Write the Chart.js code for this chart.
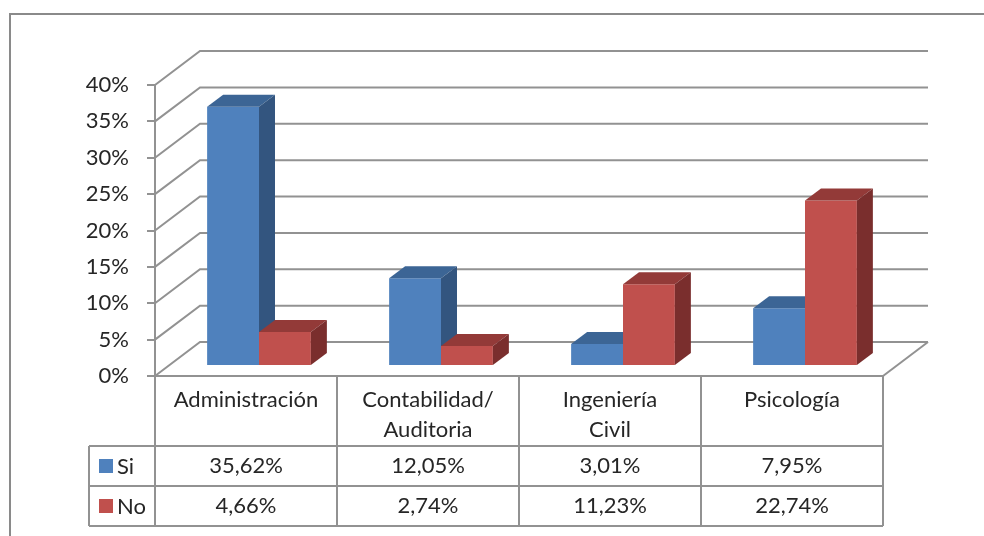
<!DOCTYPE html>
<html>
<head>
<meta charset="utf-8">
<script src="https://cdn.jsdelivr.net/npm/chart.js@4"></script>
<style>
    body { margin: 0; background: #fff; }
    #wrap { position: relative; width: 984px; height: 536px; overflow: hidden; }
    #frame { position: absolute; left: 9px; top: 13px; width: 1200px; height: 800px; border: 2px solid #8a8a8a; }
    canvas { position: absolute; left: 0; top: 0; }
</style>
</head>
<body>
<div id="wrap">
    <div id="frame"></div>
    <canvas id="careerChart" width="984" height="536"></canvas>
</div>
<script>
// Data
const careers = [['Administración'], ['Contabilidad/', 'Auditoria'], ['Ingeniería', 'Civil'], ['Psicología']];
const siValues = [35.62, 12.05, 3.01, 7.95];
const noValues = [4.66, 2.74, 11.23, 22.74];
const seriesNames = ['Si', 'No'];
const yTicks = [0, 5, 10, 15, 20, 25, 30, 35, 40];

// Face colours per series: front, top, side
const faces = [
    { front: '#4F81BD', top: '#3C6595', side: '#33557F' },
    { front: '#C0504D', top: '#933A38', side: '#7A2E2D' }
];

const FONT = 'Lato, "Open Sans", sans-serif';
const FONT_SIZE = 22;
const LINE = '#929292';
const WALL_DX = 45, WALL_DY = -34;   // back wall offset
const BAR_DX = 13, BAR_DY = -10;     // bar front face offset
const BAR_DEPTH_X = 16, BAR_DEPTH_Y = -12;

const fmt = v => v.toFixed(2).replace('.', ',') + '%';

function poly(ctx, pts, fill) {
    ctx.beginPath();
    ctx.moveTo(pts[0][0], pts[0][1]);
    for (let i = 1; i < pts.length; i++) ctx.lineTo(pts[i][0], pts[i][1]);
    ctx.closePath();
    ctx.fillStyle = fill;
    ctx.fill();
}

// Walls, floor and 3D bars
const box3d = {
    id: 'box3d',
    beforeDatasetsDraw(chart) {
        const ctx = chart.ctx;
        const area = chart.chartArea;
        const y = chart.scales.y;

        ctx.save();
        ctx.strokeStyle = LINE;
        ctx.lineWidth = 2;
        yTicks.forEach(v => {
            const py = y.getPixelForValue(v);
            ctx.beginPath();
            ctx.moveTo(area.left, py);
            ctx.lineTo(area.left + WALL_DX, py + WALL_DY);
            ctx.lineTo(area.right + WALL_DX, py + WALL_DY);
            ctx.stroke();
        });
        // floor right edge
        ctx.beginPath();
        ctx.moveTo(area.right, area.bottom);
        ctx.lineTo(area.right + WALL_DX, area.bottom + WALL_DY);
        ctx.stroke();

        const metas = [chart.getDatasetMeta(0), chart.getDatasetMeta(1)];
        for (let i = 0; i < careers.length; i++) {
            metas.forEach((meta, d) => {
                const bar = meta.data[i];
                const p = bar.getProps(['x', 'y', 'base', 'width'], true);
                const l = p.x - p.width / 2 + BAR_DX;
                const r = p.x + p.width / 2 + BAR_DX;
                const t = p.y + BAR_DY;
                const b = p.base + BAR_DY;
                const c = faces[d];
                poly(ctx, [[l, t], [r, t], [r, b], [l, b]], c.front);
                poly(ctx, [[l, t], [r, t], [r + BAR_DEPTH_X, t + BAR_DEPTH_Y], [l + BAR_DEPTH_X, t + BAR_DEPTH_Y]], c.top);
                poly(ctx, [[r, t], [r + BAR_DEPTH_X, t + BAR_DEPTH_Y], [r + BAR_DEPTH_X, b + BAR_DEPTH_Y], [r, b]], c.side);
            });
        }
        ctx.restore();
        return false;
    }
};

// Data table under the plot
const dataTable = {
    id: 'dataTable',
    afterDraw(chart) {
        const ctx = chart.ctx;
        const area = chart.chartArea;
        const x = chart.scales.x;
        const colW = (area.right - area.left) / careers.length;
        const top = area.bottom, headBottom = top + 70, rowH = 40;
        const keyLeft = 89;
        const bottom = headBottom + rowH * 2;

        ctx.save();
        ctx.strokeStyle = LINE;
        ctx.lineWidth = 2;
        ctx.beginPath();
        ctx.moveTo(area.left, top); ctx.lineTo(area.right, top);
        for (let r = 0; r <= 2; r++) {
            ctx.moveTo(keyLeft, headBottom + r * rowH);
            ctx.lineTo(area.right, headBottom + r * rowH);
        }
        ctx.moveTo(keyLeft, headBottom); ctx.lineTo(keyLeft, bottom);
        for (let k = 0; k <= careers.length; k++) {
            const cx = area.left + k * colW;
            ctx.moveTo(cx, top); ctx.lineTo(cx, bottom);
        }
        ctx.stroke();

        ctx.fillStyle = '#262626';
        ctx.font = FONT_SIZE + 'px ' + FONT;
        ctx.textAlign = 'center';
        ctx.textBaseline = 'middle';
        careers.forEach((lines, i) => {
            const cx = x.getPixelForValue(i);
            lines.forEach((ln, j) => ctx.fillText(ln, cx, top + 24 + j * 30));
            ctx.fillText(fmt(siValues[i]), cx, headBottom + rowH / 2);
            ctx.fillText(fmt(noValues[i]), cx, headBottom + rowH * 1.5);
        });

        ctx.textAlign = 'left';
        seriesNames.forEach((name, d) => {
            const cy = headBottom + rowH * (d + 0.5);
            ctx.fillStyle = faces[d].front;
            ctx.fillRect(99, cy - 7, 14, 14);
            ctx.fillStyle = '#262626';
            ctx.fillText(name, 117, cy + 1);
        });
        ctx.restore();
    }
};

new Chart(document.getElementById('careerChart'), {
    type: 'bar',
    data: {
        labels: careers,
        datasets: [
            { label: seriesNames[0], data: siValues, backgroundColor: faces[0].front },
            { label: seriesNames[1], data: noValues, backgroundColor: faces[1].front }
        ]
    },
    options: {
        responsive: false,
        animation: false,
        events: [],
        categoryPercentage: 0.57,
        barPercentage: 1,
        layout: { padding: { top: 85, right: 101, bottom: 160, left: 0 } },
        plugins: {
            legend: { display: false },
            tooltip: { enabled: false }
        },
        scales: {
            x: { display: false },
            y: {
                min: 0,
                max: 40,
                afterFit: scale => { scale.width = 155; },
                afterBuildTicks: scale => { scale.ticks = yTicks.map(v => ({ value: v })); },
                border: { display: true, color: LINE, width: 2 },
                grid: {
                    drawOnChartArea: false,
                    drawTicks: true,
                    tickLength: 8,
                    color: LINE,
                    lineWidth: 2
                },
                ticks: {
                    padding: 18,
                    color: '#262626',
                    font: { family: FONT, size: FONT_SIZE },
                    callback: v => v + '%'
                }
            }
        }
    },
    plugins: [box3d, dataTable]
});
</script>
</body>
</html>
